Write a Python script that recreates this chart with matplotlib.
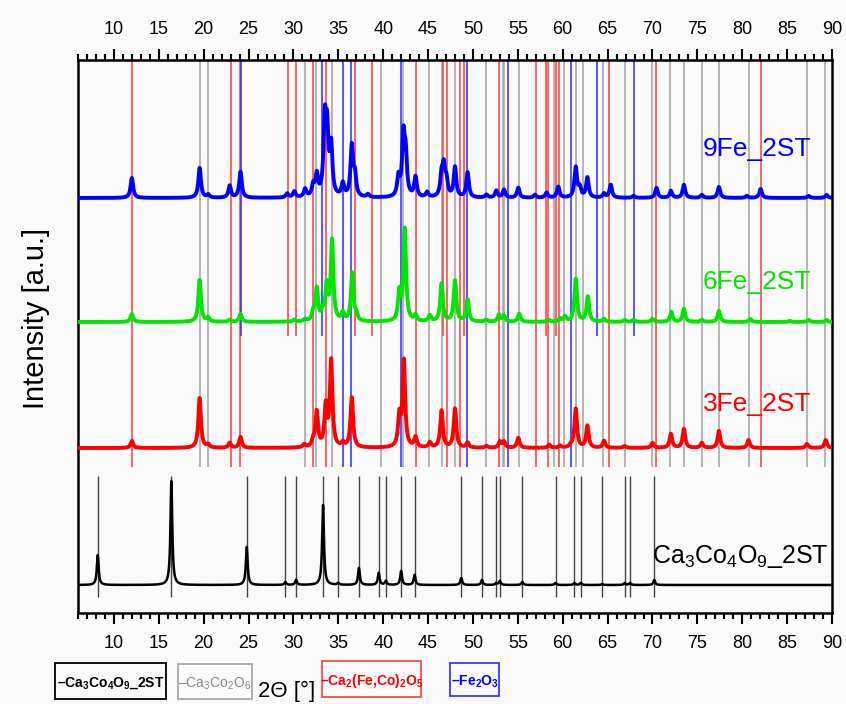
import numpy as np
import matplotlib.pyplot as plt
from matplotlib.patches import Rectangle

plt.rcParams['font.family'] = ['Liberation Sans', 'DejaVu Sans']
plt.rcParams['mathtext.fontset'] = 'custom'
plt.rcParams['mathtext.rm'] = 'Liberation Sans'
plt.rcParams['mathtext.bf'] = 'Liberation Sans:bold'
plt.rcParams['mathtext.default'] = 'regular'

# peak positions (2theta, deg) and peak heights (a.u.)
ca349_pos = [8.2, 16.4, 24.8, 29.1, 30.3, 33.3, 35.0, 37.3, 39.5, 40.3, 42.0, 43.5,
             48.7, 51.0, 52.6, 53.0, 55.5, 59.2, 61.3, 62.0, 64.4, 66.9, 67.5, 70.2]
ca349_h = [30, 104, 38, 3, 5, 80, 2, 17, 12, 4, 14, 10,
           7, 5, 2, 4, 3, 2, 2, 2, 1, 2, 2, 5]

fe3_pos = [12.0, 19.55, 20.5, 22.9, 24.1, 31.2, 32.2, 32.6, 33.6, 34.2, 35.5, 36.5,
           41.8, 42.3, 43.6, 45.2, 46.5, 48.0, 49.4, 51.5, 53.0, 53.45, 55.05, 58.5,
           59.7, 60.9, 61.45, 62.75, 64.6, 66.9, 70.0, 72.05, 73.5, 75.5, 77.4, 80.7,
           87.2, 89.3]
fe3_h = [7, 50, 3, 5, 11, 3, 6, 35, 40, 86, 4, 50,
         30, 86, 10, 5, 37, 39, 5, 2, 6, 6, 10, 3,
         2, 2, 39, 22, 7, 2, 5, 14, 19, 5, 17, 8,
         4, 8]

fe6_pos = [12.0, 19.55, 20.5, 22.9, 24.1, 30.1, 31.3, 32.2, 32.6, 33.25, 33.7, 34.3,
           35.5, 36.55, 37.0, 41.8, 42.4, 43.6, 45.2, 46.5, 48.0, 49.4, 51.5, 52.9,
           53.45, 55.15, 58.4, 59.7, 60.25, 61.45, 62.8, 64.6, 66.9, 67.9, 70.0, 72.1,
           73.5, 75.5, 77.4, 80.9, 85.3, 87.4, 89.4]
fe6_h = [8, 42, 4, 2, 8, 2, 2, 8, 32, 8, 34, 80,
         8, 48, 6, 28, 92, 6, 6, 38, 41, 22, 2, 7,
         6, 8, 2, 3, 5, 43, 25, 3, 2, 2, 3, 10,
         13, 2, 11, 3, 1, 2, 2]

fe9_pos = [12.0, 19.55, 20.5, 22.9, 24.1, 29.3, 30.1, 31.3, 32.2, 32.6, 33.5, 33.75,
           34.2, 35.5, 36.5, 36.85, 38.3, 41.7, 42.25, 42.5, 43.6, 44.9, 46.5, 46.75,
           47.05, 48.0, 49.4, 51.5, 52.6, 53.45, 55.05, 56.9, 58.2, 59.5, 61.45, 61.9,
           62.75, 64.6, 65.35, 67.9, 70.45, 72.05, 73.5, 75.5, 77.4, 80.5, 82.05, 87.4,
           89.4]
fe9_h = [20, 30, 3, 12, 26, 4, 6, 8, 11, 21, 70, 58,
         48, 13, 50, 20, 3, 19, 58, 38, 20, 5, 20, 28,
         15, 30, 25, 3, 7, 8, 10, 3, 5, 11, 30, 9,
         20, 4, 13, 2, 10, 7, 13, 3, 11, 2, 9, 2,
         3]

# reference line positions of the phases
ref_ca349 = ca349_pos
ref_ca326 = [19.6, 20.5, 31.3, 32.5, 34.3, 39.8, 42.2, 45.1, 46.5, 48.0, 51.4, 53.3,
             53.5, 55.1, 59.0, 60.1, 61.5, 62.3, 64.5, 66.9, 69.9, 72.0, 73.5, 75.5,
             77.4, 80.7, 87.2, 89.2]
ref_ca2 = [12.0, 23.0, 24.1, 29.4, 30.3, 32.2, 33.6, 36.9, 38.7, 43.7, 46.7, 47.1,
           48.6, 49.0, 52.9, 57.0, 58.1, 58.4, 59.3, 59.55, 65.2, 70.4, 82.1]
ref_ca2_3fe = [12.0, 23.0, 24.1, 32.2, 33.6, 43.7, 47.1, 48.6, 52.9, 57.0, 58.4,
               59.55, 65.2, 70.4, 82.1]
ref_fe2o3 = [24.2, 33.2, 35.5, 36.4, 42.0, 49.3, 53.9, 60.9, 63.8, 67.9]
ref_fe2o3_3fe = [35.5, 36.4, 42.0, 49.3, 53.9, 60.9]

two_theta = np.arange(6, 90.001, 0.02)


def pattern(pos, h, w=0.17):
    y = np.zeros_like(two_theta)
    for p, a in zip(pos, h):
        y += a / (1 + ((two_theta - p) / w) ** 2)
    return y


bg = '#fafafa'
fig = plt.figure(figsize=(8.46, 7.04), dpi=100, facecolor=bg)
ax = fig.add_axes([78 / 846, 91 / 704, 754 / 846, 553 / 704])
ax.set_facecolor(bg)

red_c = '#ff4a4a'
blue_c = '#3a3aff'
gray_c = '#a9a9a9'

# reference lines (upper band: 9Fe/6Fe, middle band: 3Fe, lower: Ca3Co4O9)
ax.vlines(ref_ca326, 277, 553, color=gray_c, lw=1.2, zorder=1)
ax.vlines(ref_ca326, 146, 277, color=gray_c, lw=1.2, zorder=1)
ax.vlines(ref_ca2, 277, 553, color=red_c, lw=1.2, zorder=1)
ax.vlines(ref_ca2_3fe, 146, 277, color=red_c, lw=1.2, zorder=1)
ax.vlines(ref_fe2o3, 277, 553, color=blue_c, lw=1.2, zorder=1)
ax.vlines(ref_fe2o3_3fe, 146, 277, color=blue_c, lw=1.2, zorder=1)
ax.vlines(ref_ca349, 16, 137, color='#444444', lw=1.0, zorder=1)

ax.plot(two_theta, pattern(ca349_pos, ca349_h, 0.12) + 28, color='black', lw=1.8, zorder=3)
ax.plot(two_theta, pattern(fe3_pos, fe3_h) + 165, color='#ff0000', lw=2.8, zorder=3)
ax.plot(two_theta, pattern(fe6_pos, fe6_h) + 291, color='#00e600', lw=2.8, zorder=3)
ax.plot(two_theta, pattern(fe9_pos, fe9_h) + 415, color='#0000ff', lw=2.8, zorder=3)

ax.text(75.6, 457, '9Fe_2ST', color='#0000ff', fontsize=19, va='baseline')
ax.text(75.6, 324, '6Fe_2ST', color='#00e600', fontsize=19, va='baseline')
ax.text(75.6, 202, '3Fe_2ST', color='#ff0000', fontsize=19, va='baseline')
ax.text(69.9, 50, 'Ca$_3$Co$_4$O$_9$_2ST', color='black', fontsize=18, va='baseline')

ax.set_xlim(6, 90)
ax.set_ylim(0, 553)
ax.set_yticks([])
ax.set_xticks(np.arange(10, 91, 5))
ax.set_xticks(np.arange(6, 91, 1), minor=True)
ax.tick_params(axis='x', which='both', direction='out', top=True, labeltop=True,
               bottom=True, labelbottom=True, labelsize=13, width=1.5, pad=8)
ax.tick_params(axis='x', which='major', length=8)
ax.tick_params(axis='x', which='minor', length=4)
for s in ax.spines.values():
    s.set_linewidth(1.8)

fig.text(36 / 846, 1 - 318 / 704, 'Intensity [a.u.]', rotation=90, fontsize=21,
         ha='center', va='center')

# legend boxes along the bottom
boxes = [
    (55, 663, 111, 36, 'black', '–Ca$_3$Co$_4$O$_9$_2ST', 'black', 'bold'),
    (178, 664, 74, 35, gray_c, '–Ca$_3$Co$_2$O$_6$', '#888888', 'normal'),
    (322, 661, 99, 36, red_c, '–Ca$_2$(Fe,Co)$_2$O$_5$', '#ff0000', 'bold'),
    (450, 663, 49, 33, blue_c, '–Fe$_2$O$_3$', '#0000ff', 'bold'),
]
for x0, y0, w, h, ec, label, tc, wt in boxes:
    fig.patches.append(Rectangle((x0 / 846, 1 - (y0 + h) / 704), w / 846, h / 704,
                                 transform=fig.transFigure, fill=False, ec=ec, lw=1.3))
    fig.text((x0 + w / 2) / 846, 1 - (y0 + h / 2 + 2) / 704, label, color=tc,
             fontsize=10, fontweight=wt, ha='center', va='center')

fig.text(287 / 846, 1 - 697 / 704, '2Θ [°]', fontsize=16,
         ha='center', va='baseline')

fig.savefig('out.png', dpi=100, facecolor=bg)
